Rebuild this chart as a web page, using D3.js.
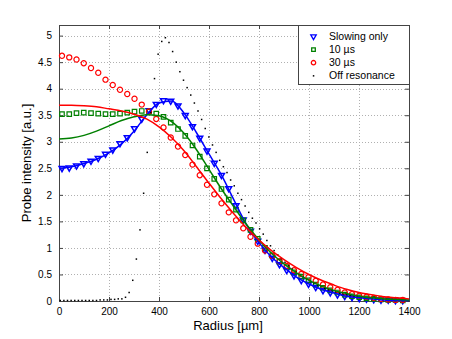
<!DOCTYPE html>
<html>
<head>
<meta charset="utf-8">
<script src="https://cdn.jsdelivr.net/npm/d3@7/dist/d3.min.js"></script>
<style>
	body { margin: 0; background: #fff; }
	svg { font-family: 'Liberation Sans', Arial, sans-serif; }
</style>
</head>
<body>
<div id="chart"></div>
<script>
// measured profiles, radius in um
var radius = [12, 41, 70, 99, 128, 157, 186, 215, 244, 273, 302, 331,
	360, 389, 418, 447, 476, 505, 534, 563, 592, 621, 650, 679,
	708, 737, 766, 795, 824, 853, 882, 911, 940, 969, 998, 1027,
	1056, 1085, 1114, 1143, 1172, 1201, 1230, 1259, 1288, 1317, 1346, 1375];

var slowingOnly = [2.50, 2.51, 2.55, 2.59, 2.64, 2.69, 2.77, 2.85, 2.97, 3.08, 3.25, 3.43,
	3.59, 3.71, 3.78, 3.77, 3.68, 3.50, 3.29, 3.07, 2.83, 2.60, 2.37, 2.12,
	1.80, 1.53, 1.32, 1.13, 0.96, 0.81, 0.69, 0.58, 0.48, 0.39, 0.32, 0.26,
	0.20, 0.16, 0.12, 0.09, 0.07, 0.05, 0.04, 0.03, 0.02, 0.02, 0.01, 0.01];

var tenUs = [3.52, 3.52, 3.54, 3.55, 3.54, 3.53, 3.52, 3.52, 3.53, 3.55, 3.57, 3.58,
	3.57, 3.53, 3.47, 3.36, 3.24, 3.11, 2.93, 2.72, 2.50, 2.30, 2.11, 1.91,
	1.72, 1.52, 1.34, 1.17, 1.00, 0.86, 0.74, 0.64, 0.54, 0.46, 0.39, 0.31,
	0.25, 0.20, 0.16, 0.12, 0.09, 0.07, 0.05, 0.04, 0.03, 0.02, 0.02, 0.01];

var thirtyUs = [4.62, 4.59, 4.55, 4.48, 4.39, 4.30, 4.17, 4.07, 3.98, 3.90, 3.81, 3.70,
	3.57, 3.43, 3.27, 3.08, 2.91, 2.75, 2.57, 2.37, 2.19, 2.01, 1.84, 1.67,
	1.52, 1.37, 1.21, 1.08, 0.95, 0.85, 0.75, 0.66, 0.58, 0.51, 0.45, 0.38,
	0.31, 0.26, 0.21, 0.16, 0.13, 0.10, 0.08, 0.06, 0.04, 0.03, 0.02, 0.02];

// fitted curves
var fitRadius = [0, 50, 100, 150, 200, 250, 300, 350, 400, 450, 500, 550, 600, 650, 700,
	750, 800, 850, 900, 950, 1000, 1050, 1100, 1150, 1200, 1250, 1300, 1350, 1400];
var slowingFit = [2.50, 2.53, 2.59, 2.67, 2.79, 2.96, 3.20, 3.50, 3.73, 3.77, 3.54, 3.17, 2.77, 2.37, 1.90,
	1.44, 1.10, 0.83, 0.63, 0.45, 0.32, 0.22, 0.15, 0.09, 0.06, 0.04, 0.02, 0.01, 0.01];
var tenFit = [3.05, 3.07, 3.12, 3.20, 3.30, 3.40, 3.47, 3.51, 3.49, 3.38, 3.16, 2.85, 2.48, 2.11, 1.77,
	1.44, 1.15, 0.90, 0.70, 0.53, 0.39, 0.28, 0.20, 0.14, 0.09, 0.06, 0.04, 0.03, 0.02];
var thirtyFit = [3.69, 3.69, 3.68, 3.66, 3.62, 3.58, 3.52, 3.43, 3.28, 3.08, 2.83, 2.53, 2.22, 1.92, 1.64,
	1.38, 1.15, 0.95, 0.78, 0.63, 0.50, 0.39, 0.30, 0.22, 0.16, 0.12, 0.08, 0.06, 0.04];

// off resonance profile (finer sampling)
var offResRadius = [5, 19.5, 34, 48.5, 63, 77.5, 92, 106.5, 121, 135.5, 150, 164.5, 179, 193.5, 208, 222.5,
	237, 251.5, 266, 280.5, 295, 309.5, 324, 338.5, 353, 367.5, 382, 396.5, 411, 425.5, 440, 454.5,
	469, 483.5, 498, 512.5, 527, 541.5, 556, 570.5, 585, 599.5, 614, 628.5, 643, 657.5, 672, 686.5,
	701, 715.5, 730, 744.5, 759, 773.5, 788, 802.5, 817, 831.5, 846, 860.5, 875, 889.5, 904, 918.5,
	933, 947.5, 962, 976.5, 991, 1005.5, 1020, 1034.5, 1049, 1063.5, 1078, 1092.5, 1107, 1121.5, 1136, 1150.5,
	1165, 1179.5, 1194, 1208.5, 1223, 1237.5, 1252, 1266.5, 1281, 1295.5, 1310, 1324.5, 1339, 1353.5, 1368, 1382.5, 1397];
var offRes = [0.01, 0.01, 0.01, 0.01, 0.01, 0.01, 0.01, 0.01, 0.01, 0.01, 0.01, 0.02, 0.02, 0.02, 0.03, 0.03,
	0.04, 0.04, 0.07, 0.16, 0.39, 0.79, 1.34, 2.03, 2.80, 3.55, 4.19, 4.65, 4.89, 4.96, 4.87, 4.70,
	4.50, 4.32, 4.16, 4.02, 3.88, 3.73, 3.58, 3.42, 3.25, 3.09, 2.94, 2.80, 2.65, 2.53, 2.42, 2.28,
	2.17, 2.03, 1.91, 1.79, 1.67, 1.56, 1.47, 1.36, 1.26, 1.14, 1.04, 0.95, 0.87, 0.80, 0.73, 0.66,
	0.60, 0.55, 0.50, 0.45, 0.41, 0.37, 0.33, 0.30, 0.27, 0.24, 0.21, 0.19, 0.17, 0.15, 0.13, 0.12,
	0.10, 0.09, 0.08, 0.07, 0.06, 0.05, 0.05, 0.04, 0.04, 0.03, 0.03, 0.02, 0.02, 0.02, 0.02, 0.01, 0.01];

var xTicks = [0, 200, 400, 600, 800, 1000, 1200, 1400];
var yTicks = [0, 0.5, 1, 1.5, 2, 2.5, 3, 3.5, 4, 4.5, 5];
var legendLabels = ['Slowing only', '10 \u00b5s', '30 \u00b5s', 'Off resonance'];

var margin = { top: 25, right: 43, bottom: 38, left: 59 };
var totalWidth = 452, totalHeight = 339;
var width = totalWidth - margin.left - margin.right;
var height = totalHeight - margin.top - margin.bottom;

var blue = '#0000ff', green = '#008000', red = '#ff0000';

function zip(xs, ys) {
	return xs.map((x, i) => ({ r: x, v: ys[i] }));
}

function drawChart() {
	var x = d3.scaleLinear().domain([0, 1400]).range([0, width]);
	var y = d3.scaleLinear().domain([0, 5.2]).range([height, 0]);

	var svg = d3
		.select('#chart')
		.append('svg')
		.attr('width', totalWidth)
		.attr('height', totalHeight);

	var g = svg
		.append('g')
		.attr('transform', 'translate(' + margin.left + ',' + margin.top + ')');

	// dotted grid
	g.selectAll('.gx')
		.data(xTicks.slice(1, -1))
		.enter()
		.append('line')
		.attr('x1', d => Math.round(x(d)) + 0.5)
		.attr('x2', d => Math.round(x(d)) + 0.5)
		.attr('y1', 0)
		.attr('y2', height)
		.attr('stroke', '#b0b0b0')
		.attr('stroke-dasharray', '1,2');

	g.selectAll('.gy')
		.data(yTicks.slice(1))
		.enter()
		.append('line')
		.attr('y1', d => Math.round(y(d)) + 0.5)
		.attr('y2', d => Math.round(y(d)) + 0.5)
		.attr('x1', 0)
		.attr('x2', width)
		.attr('stroke', '#b0b0b0')
		.attr('stroke-dasharray', '1,2');

	// axes with inward ticks and no domain path
	var plain = d => String(d);
	var xAxis = g
		.append('g')
		.attr('transform', 'translate(0,' + height + ')')
		.call(d3.axisBottom(x).tickValues(xTicks).tickFormat(plain).tickSizeInner(-4).tickSizeOuter(0).tickPadding(7));
	var xTop = g.append('g').call(d3.axisTop(x).tickValues(xTicks).tickSizeInner(-4).tickSizeOuter(0).tickFormat(''));
	var yAxis = g
		.append('g')
		.call(d3.axisLeft(y).tickValues(yTicks).tickFormat(plain).tickSizeInner(-4).tickSizeOuter(0).tickPadding(7));
	var yRight = g
		.append('g')
		.attr('transform', 'translate(' + width + ',0)')
		.call(d3.axisRight(y).tickValues(yTicks).tickSizeInner(-4).tickSizeOuter(0).tickFormat(''));

	[xAxis, xTop, yAxis, yRight].forEach(a => {
		a.select('.domain').remove();
		a.selectAll('line').attr('stroke', '#444');
		a.selectAll('text').attr('fill', '#000').style('font-size', '10px').style('font-family', null);
	});

	// frame
	g.append('rect')
		.attr('x', 0.5)
		.attr('y', 0.5)
		.attr('width', width)
		.attr('height', height)
		.attr('fill', 'none')
		.attr('stroke', '#444');

	var plot = g.append('g');

	// markers
	var tri = d3.symbol().type(d3.symbolTriangle).size(15);
	var sq = d3.symbol().type(d3.symbolSquare).size(20);
	var circ = d3.symbol().type(d3.symbolCircle).size(21);

	plot.selectAll('.tri')
		.data(zip(radius, slowingOnly))
		.enter()
		.append('path')
		.attr('d', tri)
		.attr('transform', d => 'translate(' + x(d.r) + ',' + y(d.v) + ') rotate(180)')
		.attr('fill', 'none')
		.attr('stroke', blue)
		.attr('stroke-width', 1.5);

	plot.selectAll('.sq')
		.data(zip(radius, tenUs))
		.enter()
		.append('path')
		.attr('d', sq)
		.attr('transform', d => 'translate(' + x(d.r) + ',' + y(d.v) + ')')
		.attr('fill', 'none')
		.attr('stroke', green)
		.attr('stroke-width', 1.2);

	plot.selectAll('.circ')
		.data(zip(radius, thirtyUs))
		.enter()
		.append('path')
		.attr('d', circ)
		.attr('transform', d => 'translate(' + x(d.r) + ',' + y(d.v) + ')')
		.attr('fill', 'none')
		.attr('stroke', red)
		.attr('stroke-width', 1.2);

	plot.selectAll('.dot')
		.data(zip(offResRadius, offRes))
		.enter()
		.append('rect')
		.attr('x', d => x(d.r) - 0.75)
		.attr('y', d => y(d.v) - 0.75)
		.attr('width', 1.5)
		.attr('height', 1.5)
		.attr('fill', '#000');

	// fitted lines
	var line = d3
		.line()
		.x(d => x(d.r))
		.y(d => y(d.v))
		.curve(d3.curveMonotoneX);

	[[slowingFit, blue], [tenFit, green], [thirtyFit, red]].forEach(s => {
		plot.append('path')
			.datum(zip(fitRadius, s[0]))
			.attr('d', line)
			.attr('fill', 'none')
			.attr('stroke', s[1])
			.attr('stroke-width', 1.5);
	});

	// axis labels
	svg.append('text')
		.attr('x', 228)
		.attr('y', 330)
		.attr('text-anchor', 'middle')
		.style('font-size', '13px')
		.text('Radius [\u00b5m]');

	svg.append('text')
		.attr('transform', 'translate(31,' + (margin.top + height / 2) + ') rotate(-90)')
		.attr('text-anchor', 'middle')
		.style('font-size', '13px')
		.text('Probe intensity [a.u.]');

	// legend
	var legend = svg.append('g').attr('transform', 'translate(298,25)');
	legend.append('rect')
		.attr('x', 0.5)
		.attr('y', 0.5)
		.attr('width', 111)
		.attr('height', 59)
		.attr('fill', '#fff')
		.attr('stroke', '#444');

	var legendMarks = [
		{ d: d3.symbol().type(d3.symbolTriangle).size(13)(), c: blue, rot: 180 },
		{ d: d3.symbol().type(d3.symbolSquare).size(13)(), c: green, rot: 0 },
		{ d: d3.symbol().type(d3.symbolCircle).size(15)(), c: red, rot: 0 },
		null
	];

	legendLabels.forEach((label, i) => {
		var ly = 11.5 + i * 13.1;
		var m = legendMarks[i];
		if (m) {
			legend.append('path')
				.attr('d', m.d)
				.attr('transform', 'translate(15.5,' + ly + ') rotate(' + m.rot + ')')
				.attr('fill', 'none')
				.attr('stroke', m.c)
				.attr('stroke-width', 1.3);
		} else {
			legend.append('rect')
				.attr('x', 14.8)
				.attr('y', ly - 0.7)
				.attr('width', 1.5)
				.attr('height', 1.5)
				.attr('fill', '#000');
		}
		legend.append('text')
			.attr('x', 31)
			.attr('y', ly)
			.attr('dy', '0.35em')
			.style('font-size', '10.5px')
			.text(label);
	});
}

window.onload = drawChart;
</script>
</body>
</html>
